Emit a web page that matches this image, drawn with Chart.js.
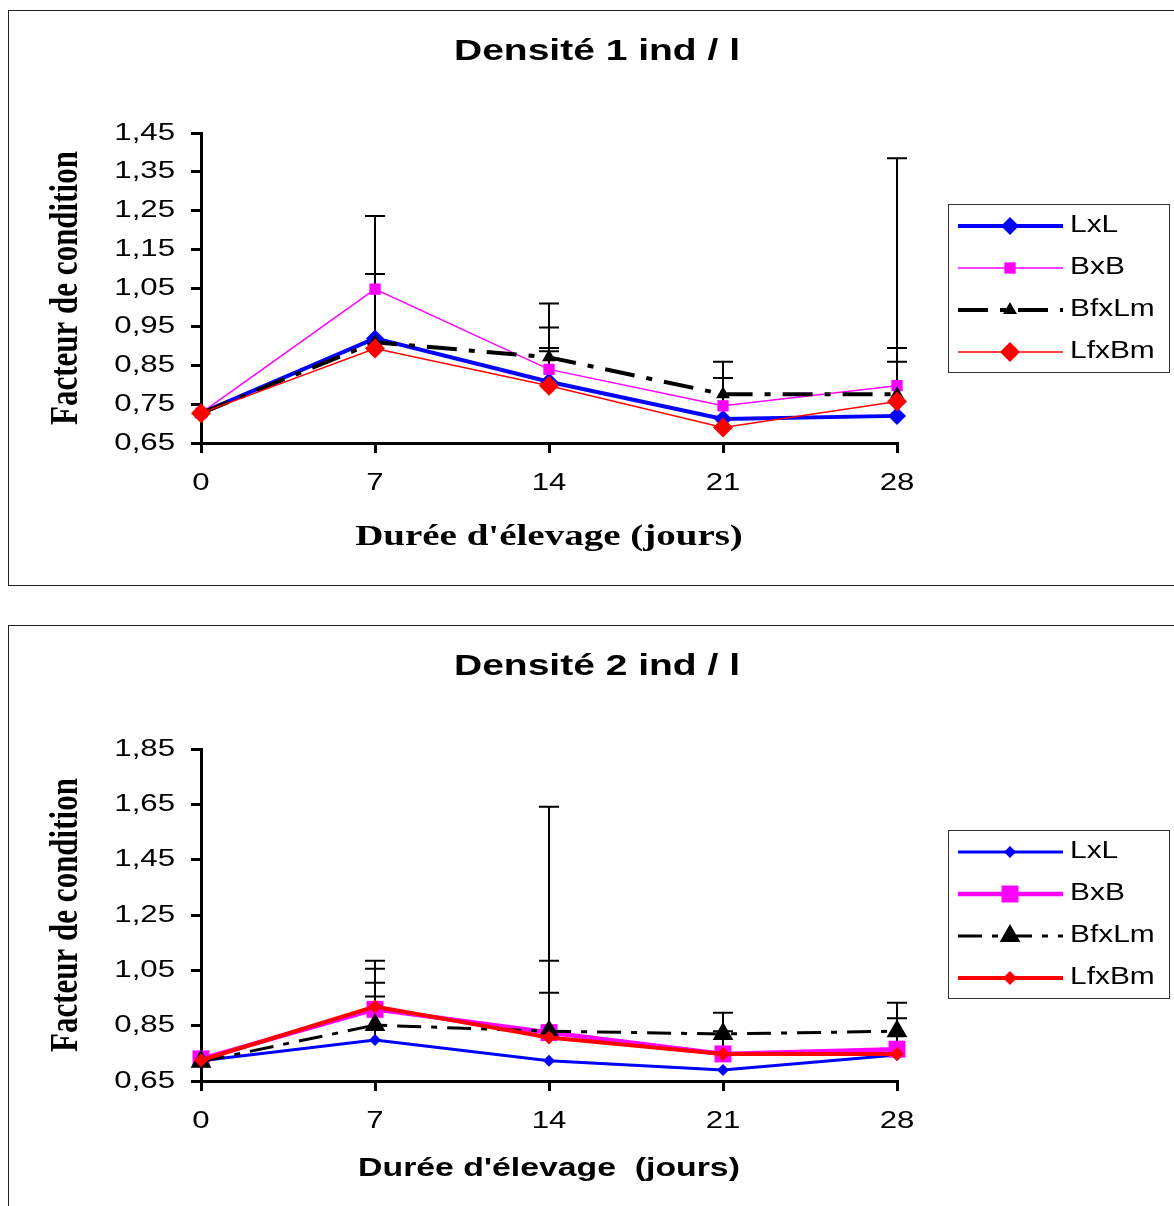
<!DOCTYPE html>
<html lang="fr">
<head>
<meta charset="utf-8">
<script src="https://cdn.jsdelivr.net/npm/chart.js@4.4.1/dist/chart.umd.min.js"></script>
<style>
  html, body { margin: 0; padding: 0; background: #fff; width: 1174px; height: 1206px; overflow: hidden; }
  .box { position: absolute; left: 8px; width: 1200px; border: 1px solid #222; box-sizing: border-box; background: #fff; }
  #box1 { top: 10px; height: 576px; }
  #box2 { top: 625px; height: 620px; }
  canvas { display: block; }
</style>
</head>
<body>
<div class="box" id="box1"><canvas id="chart1" width="1165" height="574"></canvas></div>
<div class="box" id="box2"><canvas id="chart2" width="1165" height="580"></canvas></div>
<script>
// x categories (days)
const days = ['0', '7', '14', '21', '28'];

// --- Densité 1 ind / l ---
const lxl1   = [0.727, 0.920, 0.808, 0.712, 0.720];
const bxb1   = [0.727, 1.047, 0.840, 0.746, 0.798];
const bfxlm1 = [0.727, 0.910, 0.871, 0.776, 0.776];
const lfxbm1 = [0.727, 0.894, 0.798, 0.690, 0.757];
// upper ends of the error bars (null = none visible)
const lxl1Up   = [null, null, 0.895, null, null];
const bxb1Up   = [null, 1.236, 1.010, 0.818, 1.385];
const bfxlm1Up = [null, 1.086, 0.948, 0.860, 0.860];
const lfxbm1Up = [null, null, 0.887, null, 0.895];
const yMin1 = 0.65, yMax1 = 1.45, yStep1 = 0.1;

// --- Densité 2 ind / l ---
const lxl2   = [0.723, 0.798, 0.723, 0.690, 0.744];
const bxb2   = [0.730, 0.909, 0.825, 0.748, 0.765];
const bfxlm2 = [0.720, 0.852, 0.830, 0.820, 0.830];
const lfxbm2 = [0.725, 0.919, 0.807, 0.748, 0.748];
const lxl2Up   = [null, 0.955, null, null, null];
const bxb2Up   = [null, 1.085, 1.641, 0.830, 0.877];
const bfxlm2Up = [null, 1.005, 0.969, 0.897, 0.933];
const lfxbm2Up = [null, 1.056, 1.085, null, null];
const yMin2 = 0.65, yMax2 = 1.85, yStep2 = 0.2;

const SANS = "'Liberation Sans', Arial, sans-serif";
const SERIF = "'Liberation Serif', 'Times New Roman', serif";
Chart.defaults.font.family = SANS;
Chart.defaults.color = '#000';

const fmt = v => Number(v).toFixed(2).replace('.', ',');

// the original figure's text is drawn wide: stretch glyphs horizontally around their anchor
function stretchText(ctx, sx) {
    const orig = ctx.fillText;
    ctx.fillText = function (text, x, y, maxWidth) {
        const m = this.getTransform();
        const p = m.transformPoint(new DOMPoint(x, y));
        this.save();
        this.setTransform(new DOMMatrix().translate(p.x, p.y).scale(sx, 1).translate(-p.x, -p.y).multiply(m));
        if (maxWidth === undefined) orig.call(this, text, x, y);
        else orig.call(this, text, x, y, maxWidth);
        this.restore();
    };
    return ctx;
}

function series(label, data, up, color, width, dash, pointStyle, radius, order) {
    return {
        label: label,
        data: data,
        errHigh: up,
        borderColor: color,
        backgroundColor: color,
        pointBackgroundColor: color,
        borderWidth: width,
        borderDash: dash,
        pointStyle: pointStyle,
        pointRadius: radius,
        pointHoverRadius: radius,
        pointBorderWidth: 0,
        tension: 0,
        fill: false,
        clip: false,
        order: order
    };
}

// error bars: vertical line from point to upper value, with a cap
const errorBars = {
    id: 'errorBars',
    beforeDatasetsDraw(chart) {
        const ctx = chart.ctx;
        const yScale = chart.scales.y;
        ctx.save();
        ctx.strokeStyle = '#000';
        ctx.lineWidth = 2;
        ctx.setLineDash([]);
        chart.data.datasets.forEach((ds, di) => {
            if (!ds.errHigh) return;
            const meta = chart.getDatasetMeta(di);
            ds.errHigh.forEach((hi, i) => {
                if (hi == null) return;
                const pt = meta.data[i];
                const top = yScale.getPixelForValue(hi);
                ctx.beginPath();
                ctx.moveTo(pt.x, pt.y);
                ctx.lineTo(pt.x, top);
                ctx.moveTo(pt.x - 10, top);
                ctx.lineTo(pt.x + 10, top);
                ctx.stroke();
            });
        });
        ctx.restore();
    }
};

// chart title + framed legend with long line samples
function decoPlugin(title, legendTop) {
    return {
        id: 'deco',
        afterDraw(chart) {
            const ctx = chart.ctx;
            ctx.save();
            ctx.fillStyle = '#000';
            ctx.font = 'bold 30px ' + SANS;
            ctx.textAlign = 'center';
            ctx.textBaseline = 'middle';
            ctx.fillText(title, 588, 41);

            const bx = 939, bw = 221, bh = 168;
            ctx.strokeStyle = '#333';
            ctx.lineWidth = 1;
            ctx.strokeRect(bx + 0.5, legendTop + 0.5, bw, bh);

            const rows = [22, 64, 106, 148];
            ctx.font = '23px ' + SANS;
            ctx.textAlign = 'left';
            chart.data.datasets.forEach((ds, i) => {
                const y = legendTop + rows[i];
                ctx.strokeStyle = ds.borderColor;
                ctx.lineWidth = ds.borderWidth;
                ctx.setLineDash(ds.borderDash || []);
                ctx.beginPath();
                ctx.moveTo(bx + 10, y);
                ctx.lineTo(bx + 115, y);
                ctx.stroke();
                ctx.setLineDash([]);
                ctx.fillStyle = ds.borderColor;
                Chart.helpers.drawPoint(ctx, {
                    pointStyle: ds.pointStyle, radius: ds.pointRadius, borderWidth: 0, rotation: 0
                }, bx + 62, y);
                ctx.fillStyle = '#000';
                ctx.fillText(ds.label, bx + 122, y);
            });
            ctx.restore();
        }
    };
}

function axisOptions(yMin, yMax, yStep, xTitleFont, xTitle, xH) {
    return {
        x: {
            type: 'category',
            offset: false,
            grid: { drawOnChartArea: false, color: '#000', lineWidth: 3, tickLength: 10 },
            border: { color: '#000', width: 3 },
            ticks: { font: { size: 24 }, padding: 16, maxRotation: 0, autoSkip: false },
            title: { display: true, text: xTitle, font: xTitleFont, padding: 0 },
            afterFit: s => { s.height = xH; }
        },
        y: {
            min: yMin,
            max: yMax,
            grid: { drawOnChartArea: false, color: '#000', lineWidth: 3, tickLength: 10 },
            border: { color: '#000', width: 3 },
            ticks: { stepSize: yStep, font: { size: 24 }, padding: 16, callback: v => fmt(v) },
            title: {
                display: true, text: 'Facteur de condition',
                font: { family: SERIF, size: 31, weight: 'bold' }, padding: 0
            },
            afterFit: s => { s.width = 153; }
        }
    };
}

const SX = 1.3;

new Chart(stretchText(document.getElementById('chart1').getContext('2d'), SX), {
    type: 'line',
    data: {
        labels: days,
        datasets: [
            series('LxL', lxl1, lxl1Up, '#0000ff', 4, [], 'rectRot', 9, 3),
            series('BxB', bxb1, bxb1Up, '#ff00ff', 1.5, [], 'rect', 8, 2),
            series('BfxLm', bfxlm1, bfxlm1Up, '#000000', 4, [30, 12, 6, 12], 'triangle', 8, 1),
            series('LfxBm', lfxbm1, lfxbm1Up, '#ff0000', 1.5, [], 'rectRot', 10, 0)
        ]
    },
    options: {
        responsive: false,
        animation: false,
        events: [],
        layout: { padding: { left: 39, top: 122, right: 277, bottom: 30 } },
        plugins: { legend: { display: false }, tooltip: { enabled: false } },
        scales: axisOptions(yMin1, yMax1, yStep1,
            { family: SERIF, size: 30, weight: 'bold' }, "Durée d'élevage (jours)", 112)
    },
    plugins: [errorBars, decoPlugin('Densité 1 ind / l', 193)]
});

new Chart(stretchText(document.getElementById('chart2').getContext('2d'), SX), {
    type: 'line',
    data: {
        labels: days,
        datasets: [
            series('LxL', lxl2, lxl2Up, '#0000ff', 3, [], 'rectRot', 6, 3),
            series('BxB', bxb2, bxb2Up, '#ff00ff', 4.5, [], 'rect', 12, 2),
            series('BfxLm', bfxlm2, bfxlm2Up, '#000000', 3, [24, 10, 6, 10], 'triangle', 12, 1),
            series('LfxBm', lfxbm2, lfxbm2Up, '#ff0000', 4, [], 'rectRot', 7, 0)
        ]
    },
    options: {
        responsive: false,
        animation: false,
        events: [],
        layout: { padding: { left: 39, top: 123, right: 277, bottom: 21.4 } },
        plugins: { legend: { display: false }, tooltip: { enabled: false } },
        scales: axisOptions(yMin2, yMax2, yStep2,
            { family: SANS, size: 26, weight: 'bold' }, "Durée d'élevage  (jours)", 103.6)
    },
    plugins: [errorBars, decoPlugin('Densité 2 ind / l', 204)]
});
</script>
</body>
</html>
